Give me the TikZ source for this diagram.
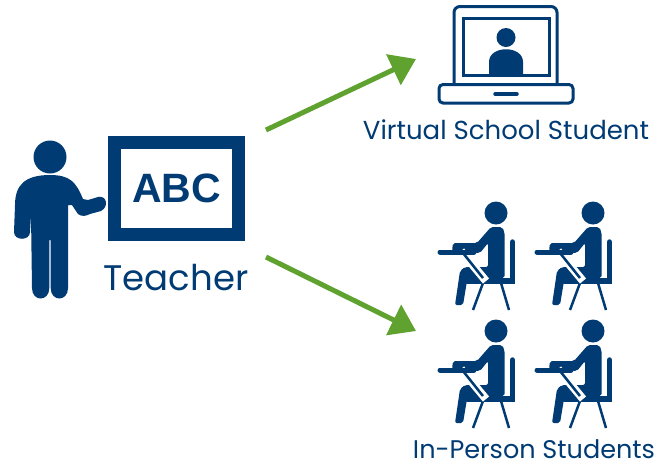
\documentclass[tikz,border=0pt]{standalone}
\usepackage{fontspec}
\setmainfont{Poppins}
\newfontfamily\boardfont{Liberation Sans}
\usetikzlibrary{arrows.meta,positioning}
\definecolor{navy}{HTML}{003B73}
\definecolor{leaf}{HTML}{5FA22F}
\tikzset{
  label text/.style={text=navy, inner sep=0pt},
  flow/.style={-{Triangle[length=25pt,width=33pt]}, line width=5pt, leaf},
  student/.pic={
    \fill[navy] (0,0) circle (11.5);
    % chair
    \draw[navy, line width=5.5pt, line cap=round] (16.5,29) -- (16.5,68) -- (-29,68);
    \draw[navy, line width=2.5pt] (-13,70) -- (-23,97);
    \draw[navy, line width=2.5pt] (5,70) -- (13,97);
    % body and leg
    \fill[navy, rounded corners=2pt] (-5,14) -- (6,14) -- (8.5,19) -- (8.5,65) -- (-29,68) -- (-33,92) -- (-41,92) -- (-36,58) -- (-31,54) -- (-8,54) -- (-8,30) -- (-16,40) -- (-44,38) -- (-43,30) -- (-19,30) -- cycle;
    % desk
    \draw[white, line width=8pt] (-35,38) -- (-10,68);
    \draw[navy, line width=2.5pt] (-33,40) -- (-13,65);
    \draw[navy, line width=5pt, line cap=round] (-56,39) -- (-22,39);
  },
}
\begin{document}
\begin{tikzpicture}[x=1pt,y=-1pt]
    \useasboundingbox (0,0) rectangle (666,467);
    % teacher
    \fill[navy] (50,157) circle (16.5);
    \fill[navy] (50,175) .. controls (25,175) and (15,185) .. (15,205) -- (14,232)
        .. controls (14,241) and (30,241) .. (30,232) -- (31,215) -- (32,288)
        .. controls (32,302) and (49.3,302) .. (49.3,288) -- (49.3,240) -- (50.7,240) -- (50.7,288)
        .. controls (50.7,302) and (68,302) .. (68,288) -- (68,205) -- (72,205) -- (78,214)
        .. controls (82,217) and (86,216) .. (90,214) -- (101,211)
        .. controls (109,207) and (107,195) .. (98,197) -- (88,200) -- (83,199)
        .. controls (76,182) and (70,175) .. (50,175) -- cycle;
    \node[draw=navy, line width=13pt, fill=white, minimum width=124pt, minimum height=92pt, text=navy, font=\boardfont\bfseries\fontsize{41}{41}\selectfont] (board) at (176.5,188.5) {ABC};
    \node[label text, font=\fontsize{35.5}{36}\selectfont] (teacher) at (176,278) {Teacher};
    % laptop
    \draw[navy, line width=3pt, rounded corners=6pt] (454,84) -- (454,6.5) -- (557,6.5) -- (557,84);
    \draw[navy, line width=3pt, fill=white] (463.5,18) rectangle (549,75.5);
    \fill[navy] (506,37.5) circle (9.5);
    \fill[navy] (489,74) -- (489,62) .. controls (489,45) and (523,45) .. (523,62) -- (523,74) -- cycle;
    \draw[navy, line width=3pt, rounded corners=4pt] (439,84.5) -- (573,84.5) -- (573,103) -- (439,103) -- cycle;
    \draw[navy, line width=3.5pt, line cap=round] (495,94) -- (517,94);
    \node[label text, font=\fontsize{26}{26}\selectfont] (virtual) at (506,130) {Virtual School Student};
    % students
    \pic at (496,213) {student};
    \pic at (593,213) {student};
    \pic at (496,331) {student};
    \pic at (593,331) {student};
    \node[label text, font=\fontsize{25.5}{26}\selectfont] (inperson) at (534,449.5) {In-Person Students};
    % arrows
    \coordinate (upstart) at (266,130);
    \coordinate (upend) at (416,59);
    \coordinate (downstart) at (266,257);
    \coordinate (downend) at (416,331);
    \draw[flow] (upstart) -- (upend);
    \draw[flow] (downstart) -- (downend);
\end{tikzpicture}
\end{document}
